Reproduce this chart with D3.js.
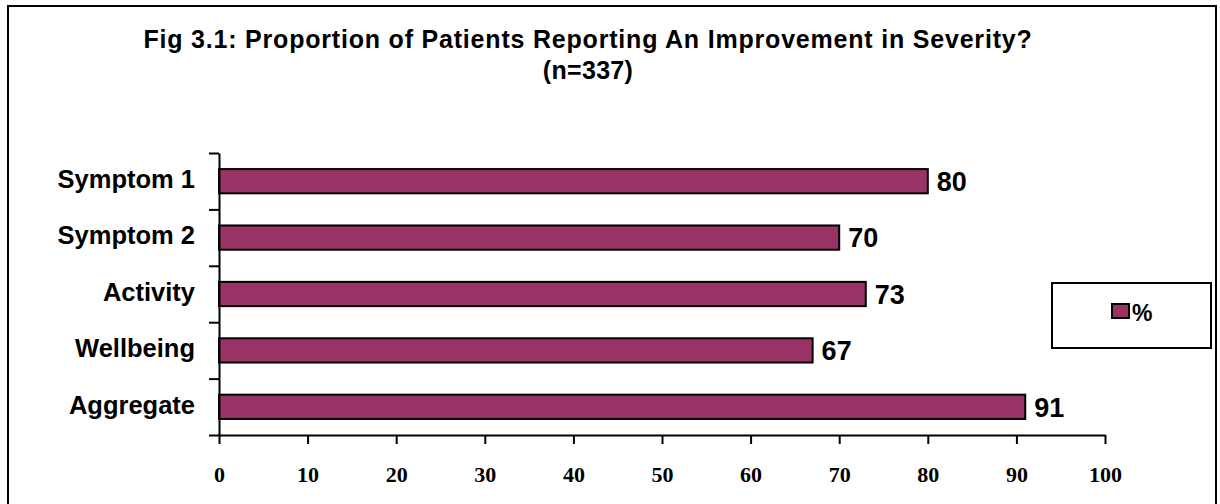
<!DOCTYPE html>
<html>
<head>
<meta charset="utf-8">
<script src="https://cdn.jsdelivr.net/npm/d3@7"></script>
<style>
  body { margin: 0; background: #fff; }
  svg text { font-family: "Liberation Sans", Arial, sans-serif; font-weight: bold; fill: #000; }
  .axis path, .axis line { stroke: #000; stroke-width: 2; }
  .axis--x text { font-family: "Liberation Serif", "Times New Roman", serif; font-size: 22px; }
</style>
</head>
<body>
<svg id="chart" width="1220" height="504"></svg>
<script>
var categories = ["Symptom 1", "Symptom 2", "Activity", "Wellbeing", "Aggregate"];
var values = [80, 70, 73, 67, 91];
var xTicks = [0, 10, 20, 30, 40, 50, 60, 70, 80, 90, 100];
var titleLines = ["Fig 3.1: Proportion of Patients Reporting An Improvement in Severity?", "(n=337)"];
var seriesName = "%";

var svg = d3.select("#chart"),
    margin = {top: 153, left: 219},
    width = 886,
    height = 282;

var barColor = "#993366";

// outer frame
svg.append("rect")
    .attr("x", 8).attr("y", 6)
    .attr("width", 1208).attr("height", 510)
    .attr("fill", "none")
    .attr("stroke", "#000")
    .attr("stroke-width", 2);

// title
svg.append("g").selectAll("text")
    .data(titleLines)
    .enter().append("text")
    .attr("x", 588)
    .attr("y", function(d, i) { return 48 + i * 31; })
    .attr("text-anchor", "middle")
    .attr("font-size", 25)
    .attr("letter-spacing", function(d, i) { return i === 0 ? 0.8 : 0.3; })
    .text(function(d) { return d; });

var x = d3.scaleLinear().domain([0, 100]).range([0, width]);
var y = d3.scaleBand().domain(categories).range([0, height])
    .paddingInner(0.57).paddingOuter(0.285);
var yEdges = d3.scaleLinear().domain([0, categories.length]).range([0, height]);

var g = svg.append("g")
    .attr("transform", "translate(" + margin.left + "," + margin.top + ")");

// bars
g.selectAll(".bar")
    .data(values)
    .enter().append("rect")
    .attr("class", "bar")
    .attr("x", 0)
    .attr("y", function(d, i) { return y(categories[i]); })
    .attr("width", function(d) { return x(d); })
    .attr("height", y.bandwidth())
    .attr("fill", barColor)
    .attr("stroke", "#000")
    .attr("stroke-width", 2);

// value labels
g.selectAll(".value")
    .data(values)
    .enter().append("text")
    .attr("class", "value")
    .attr("x", function(d) { return x(d) + 9; })
    .attr("y", function(d, i) { return y(categories[i]) + y.bandwidth() / 2; })
    .attr("dy", "0.36em")
    .attr("font-size", 27)
    .text(function(d) { return d; });

// x axis
g.append("g")
    .attr("class", "axis axis--x")
    .attr("transform", "translate(0," + height + ")")
    .call(d3.axisBottom(x).tickValues(xTicks).tickSize(9).tickSizeOuter(0).tickPadding(22))
    .call(function(a) { a.selectAll("text").attr("dy", "0.71em"); });

// y axis: tick marks between categories
g.append("g")
    .attr("class", "axis axis--y")
    .call(d3.axisLeft(yEdges).tickValues(d3.range(categories.length + 1)).tickSize(10).tickSizeOuter(0).tickFormat(""));

// y axis: category labels
g.append("g")
    .attr("class", "axis axis--cat")
    .call(d3.axisLeft(y).tickSize(0).tickPadding(24))
    .call(function(a) {
        a.select(".domain").remove();
        a.selectAll("text").attr("font-size", 25.5).attr("dy", "0.27em");
    });

// legend
var legend = svg.append("g").attr("transform", "translate(1052,283)");
legend.append("rect")
    .attr("width", 159).attr("height", 65)
    .attr("fill", "#fff").attr("stroke", "#000").attr("stroke-width", 2);
legend.append("rect")
    .attr("x", 60).attr("y", 21)
    .attr("width", 17).attr("height", 14)
    .attr("fill", barColor).attr("stroke", "#000").attr("stroke-width", 2);
legend.append("text")
    .attr("x", 80).attr("y", 38)
    .attr("font-size", 23)
    .text(seriesName);
</script>
</body>
</html>
